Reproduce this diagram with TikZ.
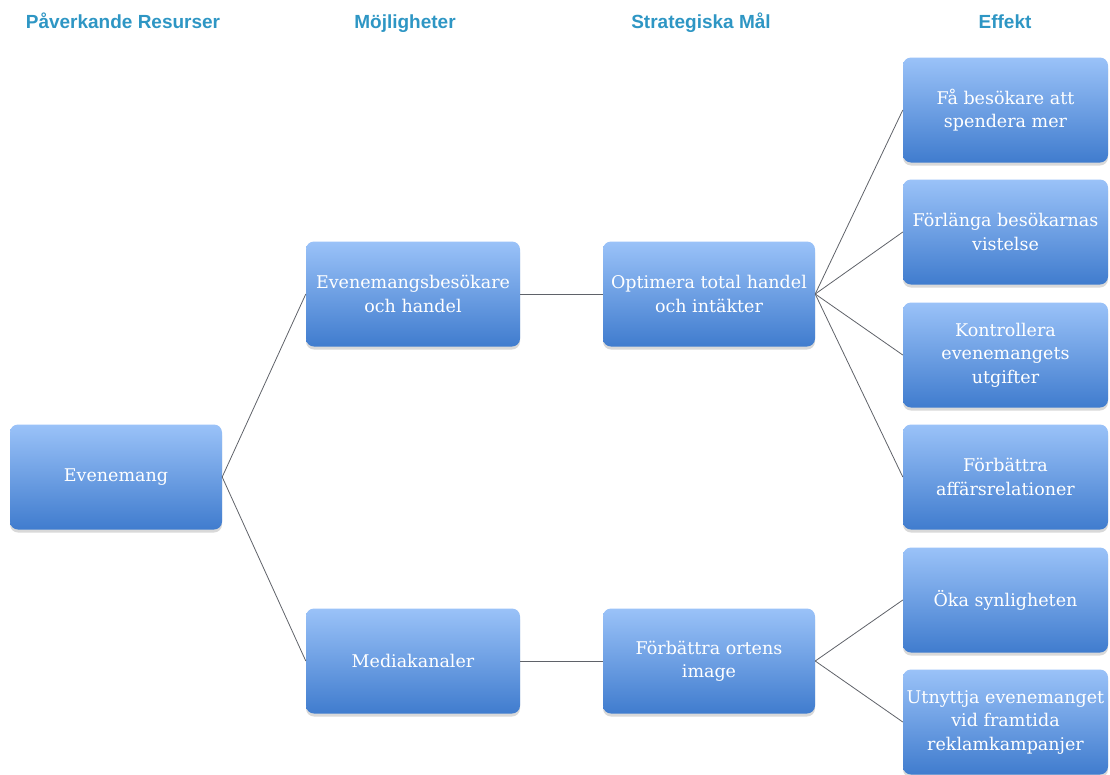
\documentclass[tikz,border=0pt]{standalone}
\usepackage{fontspec}
\setmainfont{DejaVu Serif}
\newfontfamily\headfont{Liberation Sans}
\usepackage{tikz}
\usetikzlibrary{shadows}
\definecolor{boxtop}{RGB}{154,194,248}
\definecolor{boxbot}{RGB}{64,124,206}
\definecolor{headblue}{RGB}{46,150,196}
\definecolor{linegray}{RGB}{95,98,105}
\tikzset{ box/.style={rectangle,rounded corners=8pt,top color=boxtop,bottom color=boxbot,text=white,align=center,minimum width=212pt,minimum height=105pt,inner sep=2pt,font=\fontsize{17.5}{23.5}\selectfont,drop shadow={opacity=0.3,shadow xshift=0pt,shadow yshift=-3pt}},
  head/.style={anchor=base,text=headblue,font=\headfont\bfseries\fontsize{19}{21}\selectfont},
  link/.style={draw=linegray,line width=0.8pt}}

\begin{document}
\begin{tikzpicture}[x=1pt,y=-1pt]
%[scale=1, transform shape]
  \useasboundingbox (0,0) rectangle (1110,774);
  \foreach \pos/\name/\txt in {{(123,28)/hres/P\aa verkande Resurser}, {(405,28)/hmoj/M\"ojligheter}, {(701,28)/hmal/Strategiska M\aa l}, {(1005,28)/heff/Effekt}}
        \node[head] (\name) at \pos {\txt};
  \node[box] (ev) at (116,477) {Evenemang};
  \node[box,minimum width=214pt] (evb) at (413,294) {Evenemangsbes\"okare\\och handel};
  \node[box,minimum width=214pt] (media) at (413,661) {Mediakanaler};
  \node[box] (opt) at (709,294) {Optimera total handel\\och int\"akter};
  \node[box] (img) at (709,661) {F\"orb\"attra ortens\\image};
  \foreach \y/\name/\txt in {110/spend/{F\aa{} bes\"okare att\\spendera mer}, 232/stay/{F\"orl\"anga bes\"okarnas\\vistelse}, 355/cost/{Kontrollera\\evenemangets\\utgifter}, 477/rel/{F\"orb\"attra\\aff\"arsrelationer}, 600/vis/{\"Oka synligheten}, 722/ads/{Utnyttja evenemanget\\vid framtida\\reklamkampanjer}}
        \node[box,minimum width=205pt] (\name) at (1005.5,\y) {\txt};
   \foreach \from/\to in {ev/evb, ev/media, evb/opt, media/img, opt/spend, opt/stay, opt/cost, opt/rel, img/vis, img/ads}
	\draw [link] (\from.east) -- (\to.west);
\end{tikzpicture}
\end{document}
